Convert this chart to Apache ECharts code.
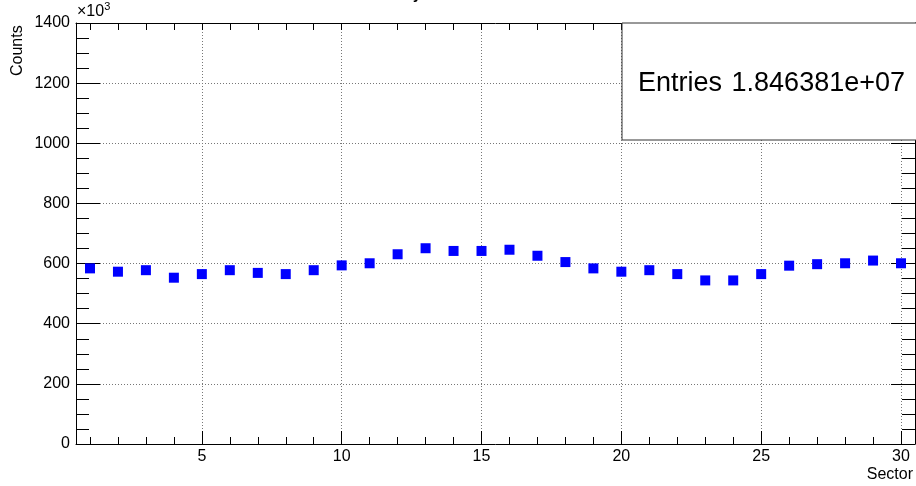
<!DOCTYPE html>
<html>
<head>
<meta charset="utf-8">
<script src="https://cdn.jsdelivr.net/npm/echarts@6/dist/echarts.min.js"></script>
<style>html,body{margin:0;padding:0;background:#fff}#c{width:916px;height:486px}</style>
</head>
<body>
<div id="c"></div>
<script>
// Data (counts in units of 10^3)
var sectors = [1,2,3,4,5,6,7,8,9,10,11,12,13,14,15,16,17,18,19,20,21,22,23,24,25,26,27,28,29,30];
var counts = [584,573,578,553,565,578,569,565,578,594,601,631,651,642,642,646,626,605,584,573,578,565,544,544,565,593,598,601,610,601];
var xMajorTicks = [5,10,15,20,25,30];
var xMinorTicks = [1,2,3,4,5,6,7,8,9,10,11,12,13,14,15,16,17,18,19,20,21,22,23,24,25,26,27,28,29,30];
var titleText = 'Projected on Sector';
var entriesLabel = 'Entries';
var entriesValue = '1.846381e+07';

var font = 'Liberation Sans, Arial, Helvetica, sans-serif';
var chart = echarts.init(document.getElementById('c'), null, {renderer: 'canvas'});
var gridLine = {show: true, lineStyle: {color: '#777', type: [1, 2], width: 1}};
var axisLine = {show: true, lineStyle: {color: '#000', width: 1}};

chart.setOption({
  animation: false,
  backgroundColor: '#fff',
  grid: {left: 76, right: 1, top: 23, bottom: 42, containLabel: false},
  xAxis: [
    {type: 'value', min: 0.5, max: 30.5, position: 'bottom',
     axisLine: axisLine,
     axisTick: {show: true, inside: true, length: 13, customValues: xMajorTicks, lineStyle: {color: '#000'}},
     axisLabel: {show: true, customValues: xMajorTicks, fontSize: 16, color: '#000', fontFamily: font, margin: 5},
     splitLine: gridLine},
    {type: 'value', min: 0.5, max: 30.5, position: 'bottom',
     axisLine: {show: false},
     axisTick: {show: true, inside: true, length: 7, customValues: xMinorTicks, lineStyle: {color: '#000'}},
     axisLabel: {show: false}, splitLine: {show: false}},
    {type: 'value', min: 0.5, max: 30.5, position: 'top',
     axisLine: axisLine,
     axisTick: {show: true, inside: true, length: 7, customValues: xMinorTicks, lineStyle: {color: '#000'}},
     axisLabel: {show: false}, splitLine: {show: false}}
  ],
  yAxis: [
    {type: 'value', min: 0, max: 1400, interval: 200, position: 'left',
     axisLine: axisLine,
     axisTick: {show: true, inside: true, length: 24, lineStyle: {color: '#000'}},
     minorTick: {show: true, splitNumber: 4, length: 13, lineStyle: {color: '#000'}},
     axisLabel: {fontSize: 16, color: '#000', fontFamily: font, margin: 6,
                 formatter: function (v) { return String(v); }},
     splitLine: gridLine},
    {type: 'value', min: 0, max: 1400, interval: 200, position: 'right',
     axisLine: axisLine,
     axisTick: {show: true, inside: true, length: 24, lineStyle: {color: '#000'}},
     minorTick: {show: true, splitNumber: 4, length: 13, lineStyle: {color: '#000'}},
     axisLabel: {show: false}, splitLine: {show: false}}
  ],
  series: [{
    type: 'scatter', xAxisIndex: 0, yAxisIndex: 0,
    symbol: 'rect', symbolSize: 10,
    itemStyle: {color: '#0000ff', opacity: 1},
    data: sectors.map(function (s, i) { return [s, counts[i]]; }),
    z: 5
  }],
  graphic: [
    {type: 'text', left: 380, top: -20, z: 10,
     style: {text: titleText, font: '22px ' + font, fill: '#000'}},
    {type: 'text', left: 77, top: 1, z: 10,
     style: {text: '{a|\u00d710}{b|3}', rich: {a: {fontSize: 16, fontFamily: font, color: '#000', verticalAlign: 'bottom'}, b: {fontSize: 11, fontFamily: font, color: '#000', verticalAlign: 'top', padding: [0,0,8,0]}}}},
    {type: 'text', x: 10, y: 76, rotation: Math.PI / 2, z: 10,
     style: {text: 'Counts', font: '16px ' + font, fill: '#000'}},
    {type: 'text', right: 3, top: 467, z: 10,
     style: {text: 'Sector', font: '16px ' + font, fill: '#000'}},
    {type: 'rect', shape: {x: 622, y: 23, width: 310, height: 117}, z: 20,
     style: {fill: '#fff', stroke: '#333', lineWidth: 1}},
    {type: 'text', x: 638, y: 84, z: 21,
     style: {text: entriesLabel, font: '27px ' + font, fill: '#000', verticalAlign: 'middle'}},
    {type: 'text', x: 905, y: 84, z: 21,
     style: {text: entriesValue, font: '27px ' + font, fill: '#000', align: 'right', verticalAlign: 'middle'}}
  ]
});
</script>
</body>
</html>
